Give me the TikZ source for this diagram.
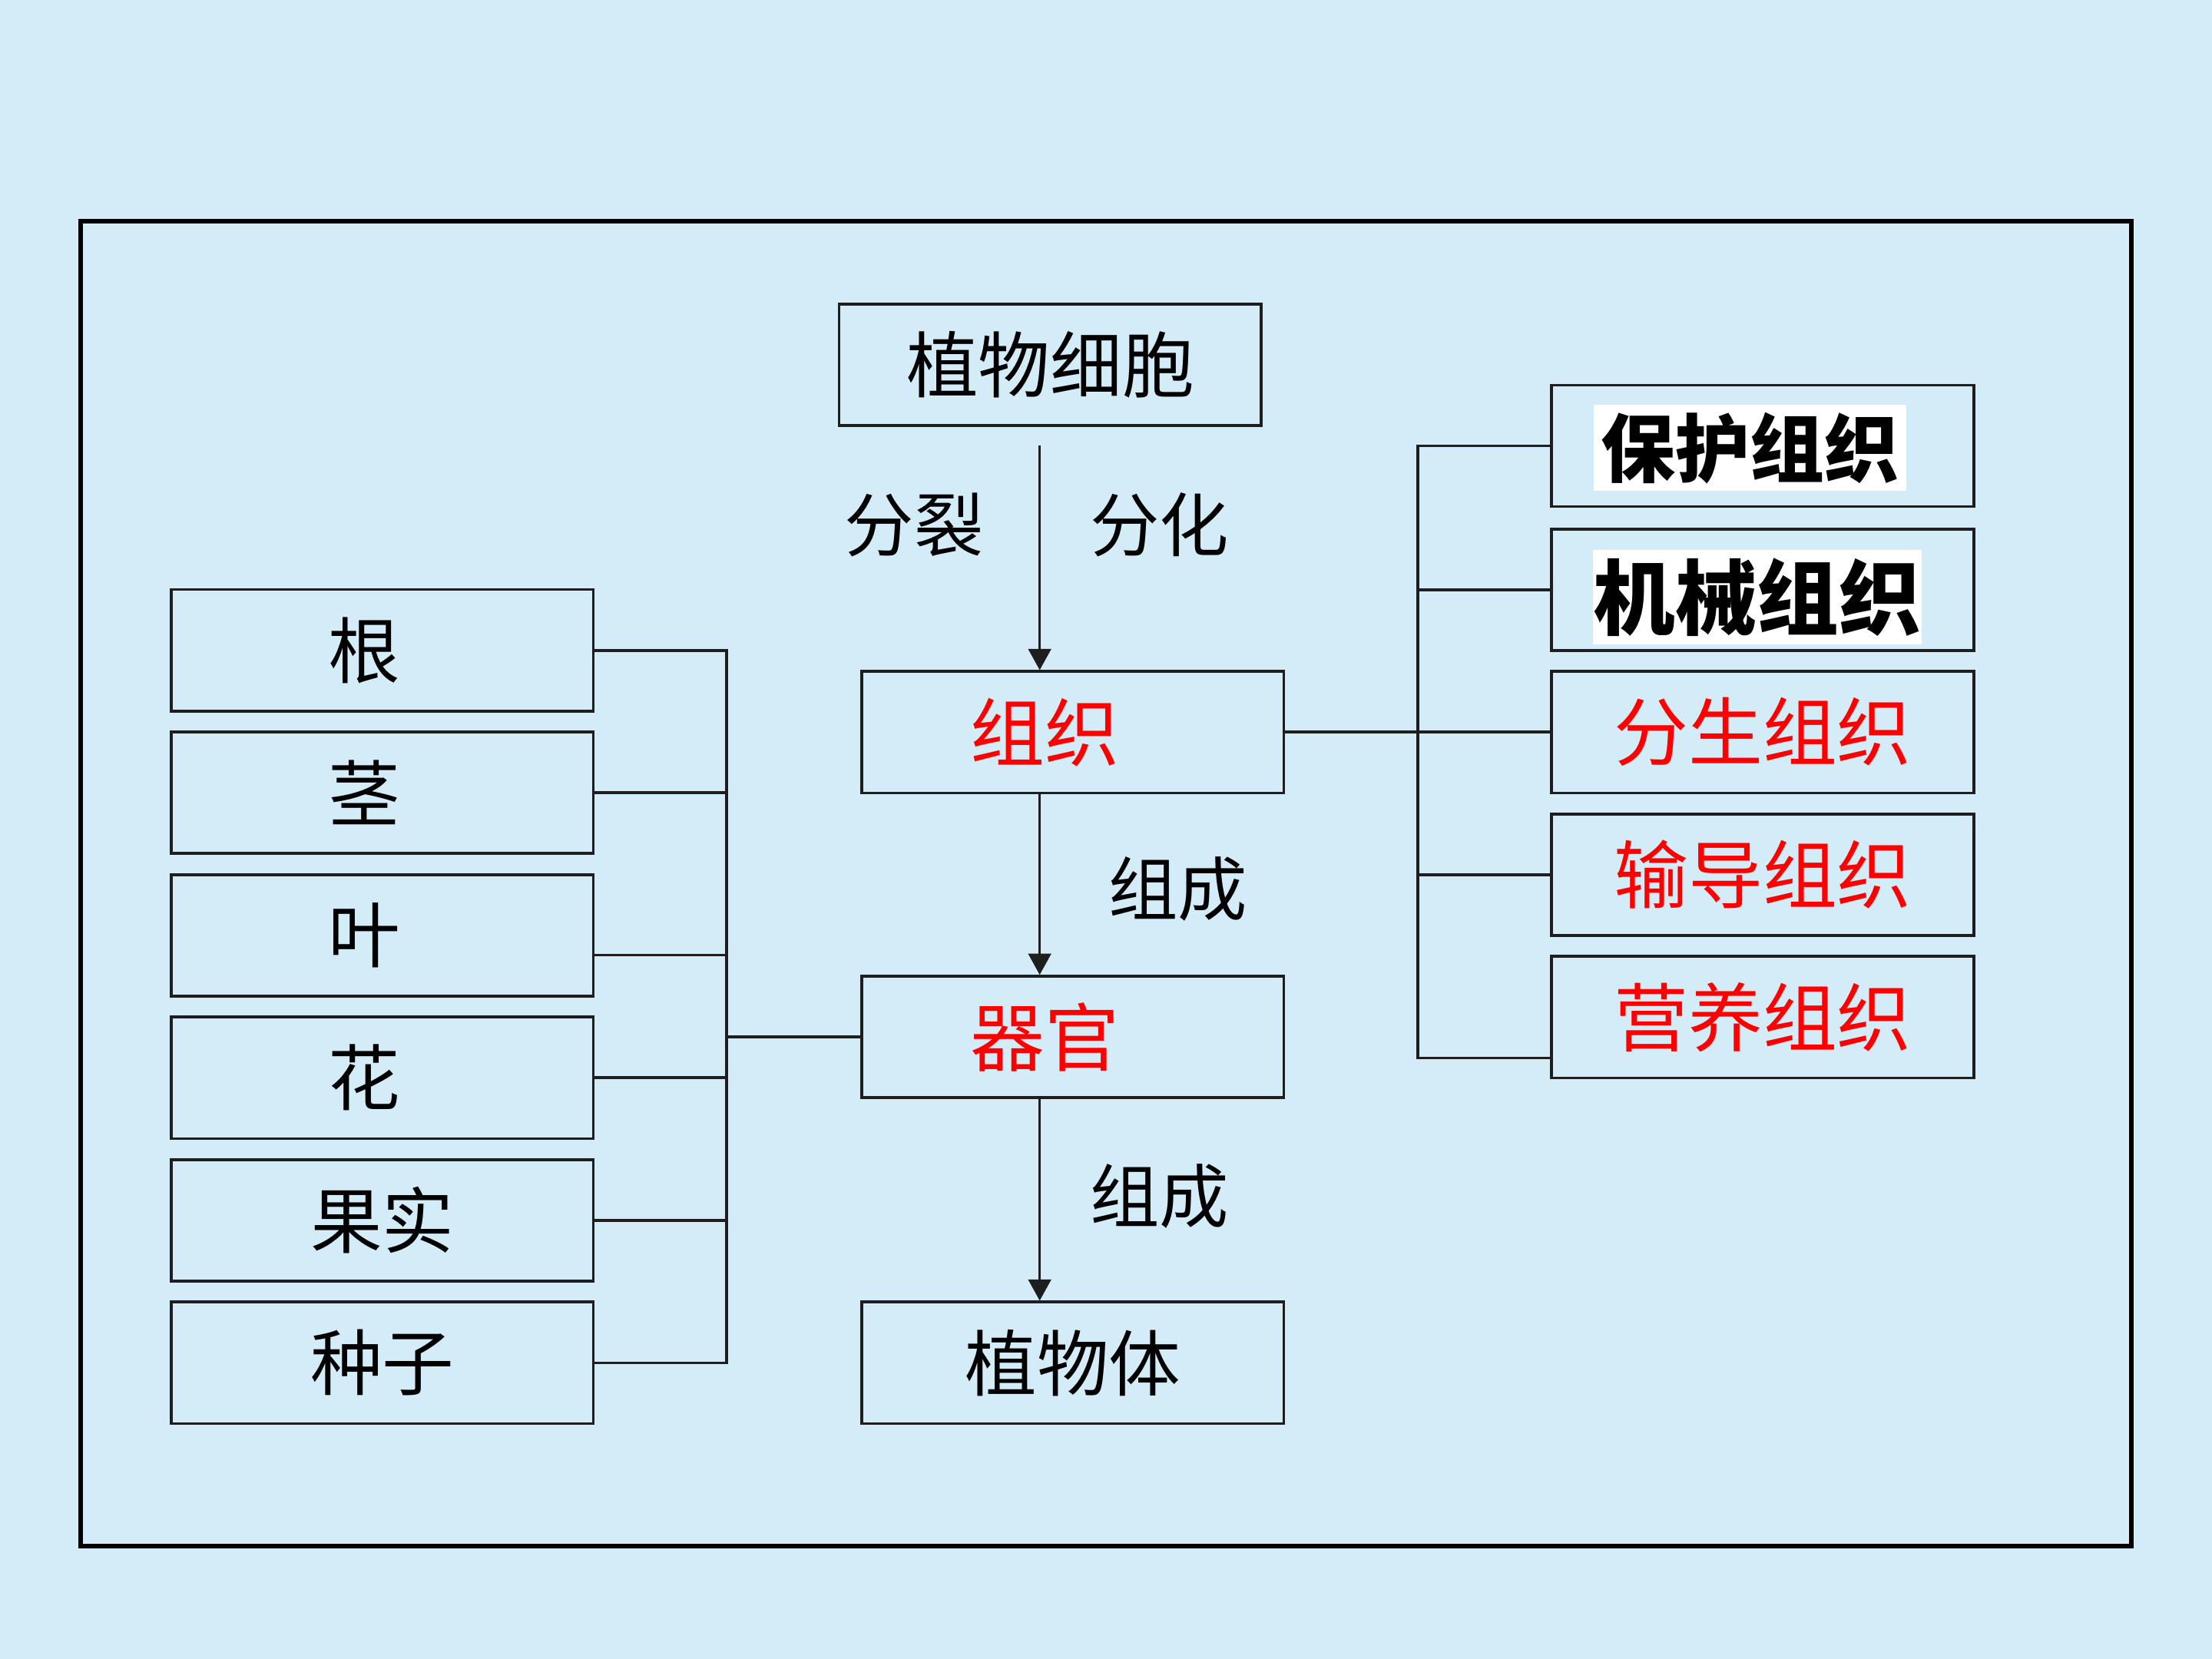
\documentclass[tikz,border=0pt]{standalone}
\usepackage{fontspec}
\newfontfamily\cjk{Noto Sans CJK SC}
\usetikzlibrary{arrows.meta}
\definecolor{bgblue}{RGB}{211,236,247}
\definecolor{boxline}{RGB}{30,30,30}

\begin{document}
\begin{tikzpicture}[x=0.01cm,y=-0.01cm]
\tikzstyle{every node}+=[inner sep=0pt]
\tikzstyle{box}=[draw=boxline, line width=0.55pt, minimum width=2.99cm, minimum height=0.86cm, font=\cjk\fontsize{14.5}{16}\selectfont]
\tikzstyle{redbox}=[box, text=red, font=\cjk\fontsize{15}{17}\selectfont]
\tikzstyle{word}=[font=\cjk\fontsize{14}{16}\selectfont]
\tikzstyle{tag}=[fill=white, font=\cjk\bfseries\fontsize{15}{17}\selectfont]
\tikzstyle{arr}=[line width=0.55pt, boxline, -{Triangle[width=1.6mm,length=1.5mm]}]
\tikzstyle{wire}=[line width=0.55pt, boxline]
\useasboundingbox (0,0) rectangle (1568,1176);
\fill [bgblue] (0,0) rectangle (1568,1176);
\draw [black, line width=0.9pt] (57,157) rectangle (1511,1096);

\node [box] (cell) at (744.5,258.5) {植物细胞};
\node [redbox] (zuzhi) at (760.5,519) {组织\kern0.4cm};
\node [redbox] (qiguan) at (760.5,735) {器官\kern0.4cm};
\node [box] (zhiwuti) at (760.5,966) {植物体};

\node [box] (gen) at (271,461) {根\kern0.26cm};
\node [box] (jing) at (271,562) {茎\kern0.26cm};
\node [box] (ye) at (271,663) {叶\kern0.26cm};
\node [box] (hua) at (271,764) {花\kern0.26cm};
\node [box] (guoshi) at (271,865) {果实};
\node [box] (zhongzi) at (271,966) {种子};

\node [box] (baohu) at (1249.5,316) {};
\node [tag, minimum width=2.21cm, minimum height=0.61cm] (baohutag) at (1240.5,317.5) {保护组织};
\node [box] (jixie) at (1249.5,418) {};
\node [tag, minimum width=2.33cm, minimum height=0.67cm, font=\cjk\bfseries\fontsize{16.5}{18}\selectfont] (jixietag) at (1245.5,423.5) {机械组织};
\node [redbox] (fensheng) at (1249.5,519) {分生组织};
\node [redbox] (shudao) at (1249.5,620) {输导组织};
\node [redbox] (yingyang) at (1249.5,721) {营养组织};

\node [word] (fenlie) at (648,372) {分裂};
\node [word] (fenhua) at (822,372) {分化};
\node [word] (zucheng) at (835,630) {组成};
\node [word] (zuchengb) at (822,848) {组成};

\coordinate (split) at (737,316);
\draw [arr] (split) -- (split |- zuzhi.north);
\draw [arr] (split |- zuzhi.south) -- (split |- qiguan.north);
\draw [arr] (split |- qiguan.south) -- (split |- zhiwuti.north);

\coordinate (lbus) at (515,735);
\coordinate (yeend) at ([yshift=-0.14cm]ye.east);
\draw [wire] (gen.east) -- (gen.east -| lbus) -- (zhongzi.east -| lbus) -- (zhongzi.east);
\draw [wire] (jing.east) -- (jing.east -| lbus);
\draw [wire] (yeend) -- (yeend -| lbus);
\draw [wire] (hua.east) -- (hua.east -| lbus);
\draw [wire] (guoshi.east) -- (guoshi.east -| lbus);
\draw [wire] (lbus) -- (qiguan.west);

\coordinate (rbus) at (1005,519);
\coordinate (yyend) at ([yshift=-0.29cm]yingyang.west);
\draw [wire] (baohu.west) -- (baohu.west -| rbus) -- (yyend -| rbus) -- (yyend);
\draw [wire] (jixie.west) -- (jixie.west -| rbus);
\draw [wire] (zuzhi.east) -- (fensheng.west);
\draw [wire] (shudao.west) -- (shudao.west -| rbus);
\end{tikzpicture}
\end{document}
